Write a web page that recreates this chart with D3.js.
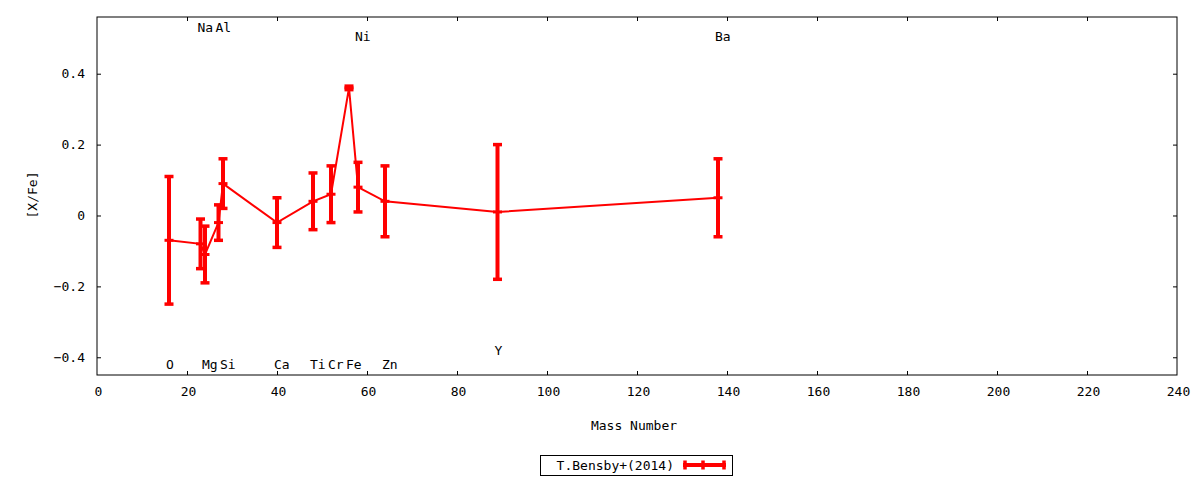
<!DOCTYPE html>
<html>
<head>
<meta charset="utf-8">
<script src="https://cdn.jsdelivr.net/npm/d3@7"></script>
<style>
  body { margin: 0; background: #fff; }
  svg { display: block; }
  text { font-family: "DejaVu Sans Mono", monospace; font-size: 13px; fill: #000; }
</style>
</head>
<body>
<div id="graf"></div>
<script>
// I. Datos
elementos  = ['O', 'Na', 'Mg', 'Al', 'Si', 'Ca', 'Ti', 'Cr', 'Fe', 'Ni', 'Zn', 'Y', 'Ba']
masa       = [16, 23, 24, 27, 28, 40, 48, 52, 56, 58, 64, 89, 138]
xfe        = [-0.07, -0.08, -0.11, -0.02, 0.09, -0.02, 0.04, 0.06, 0.36, 0.08, 0.04, 0.01, 0.05]
errXfe     = [0.18, 0.07, 0.08, 0.05, 0.07, 0.07, 0.08, 0.08, 0.005, 0.07, 0.10, 0.19, 0.11]
etiquetaY  = [-0.42, 0.53, -0.42, 0.53, -0.42, -0.42, -0.42, -0.42, -0.42, 0.505, -0.42, -0.38, 0.505]
xTicks     = [0, 20, 40, 60, 80, 100, 120, 140, 160, 180, 200, 220, 240]
yTicks     = [-0.4, -0.2, 0, 0.2, 0.4]
leyenda    = 'T.Bensby+(2014)'

datos = elementos.map((e, i) => ({
  el: e, m: masa[i], v: xfe[i], err: errXfe[i], ly: etiquetaY[i]
}))

// II. Configuración
ancho_total = 1200
alto_total  = 480
margins = { top: 17, left: 97, right: 23, bottom: 105 }
ancho = ancho_total - margins.left - margins.right
alto  = alto_total - margins.top - margins.bottom

svg = d3.select('#graf').append('svg')
  .attr('width', ancho_total)
  .attr('height', alto_total)

g = svg.append('g')
  .attr('transform', `translate(${ margins.left }, ${ margins.top })`)

x = d3.scaleLinear().domain([0, 240]).range([0, ancho])
y = d3.scaleLinear().domain([-0.45, 0.56]).range([alto, 0])

rojo = '#ff0000'
tick = 4

// III. Ejes (estilo gnuplot: ticks hacia dentro y espejados)
xAxis = g.append('g')
  .attr('transform', `translate(0, ${ alto })`)
  .call(d3.axisBottom(x).tickValues(xTicks).tickSize(-tick).tickPadding(12).tickFormat(d3.format('d')))
xAxisTop = g.append('g')
  .call(d3.axisTop(x).tickValues(xTicks).tickSize(-tick).tickFormat(''))
yAxis = g.append('g')
  .call(d3.axisLeft(y).tickValues(yTicks).tickSize(-tick).tickPadding(12).tickFormat(d => d === 0 ? '0' : d3.format('.1f')(d)))
yAxisRight = g.append('g')
  .attr('transform', `translate(${ ancho }, 0)`)
  .call(d3.axisRight(y).tickValues(yTicks).tickSize(-tick).tickFormat(''))

g.selectAll('.domain').remove()
g.selectAll('.tick line').attr('stroke', '#000').attr('stroke-width', 1)
g.selectAll('.tick text').style('font-family', '"DejaVu Sans Mono", monospace').style('font-size', '13px')
xAxis.selectAll('.tick text').attr('dx', '1px')
xAxisTop.selectAll('.tick').filter(d => d === 0 || d === 240).remove()
xAxis.selectAll('.tick line').filter(d => d === 0 || d === 240).remove()

g.append('rect')
  .attr('x', 0).attr('y', 0)
  .attr('width', ancho).attr('height', alto)
  .attr('fill', 'none')
  .attr('stroke', '#000')
  .attr('stroke-width', 1)

// Títulos
svg.append('text')
  .attr('x', margins.left + ancho / 2 - 3)
  .attr('y', 425)
  .attr('text-anchor', 'middle')
  .attr('dy', '0.35em')
  .text('Mass Number')

svg.append('text')
  .attr('transform', 'translate(32, 195) rotate(-90)')
  .attr('text-anchor', 'middle')
  .attr('dy', '0.35em')
  .text('[X/Fe]')

// IV. Etiquetas de elementos
g.selectAll('.etq')
  .data(datos)
  .enter()
  .append('text')
    .attr('class', 'etq')
    .attr('x', d => x(d.m) - 3)
    .attr('y', d => y(d.ly))
    .attr('dy', '0.35em')
    .text(d => d.el)

// V. Línea y barras de error
linea = d3.line().x(d => x(d.m)).y(d => y(d.v))

g.append('path')
  .datum(datos)
  .attr('d', linea)
  .attr('fill', 'none')
  .attr('stroke', rojo)
  .attr('stroke-width', 2)

barras = g.selectAll('.err')
  .data(datos)
  .enter()
  .append('g')
    .attr('class', 'err')

barras.append('line')
  .attr('x1', d => x(d.m)).attr('x2', d => x(d.m))
  .attr('y1', d => y(d.v + d.err)).attr('y2', d => y(d.v - d.err))
  .attr('stroke', rojo).attr('stroke-width', 4)

barras.append('line')
  .attr('x1', d => x(d.m) - 4.5).attr('x2', d => x(d.m) + 4.5)
  .attr('y1', d => y(d.v + d.err)).attr('y2', d => y(d.v + d.err))
  .attr('stroke', rojo).attr('stroke-width', 3.5)

barras.append('line')
  .attr('x1', d => x(d.m) - 4.5).attr('x2', d => x(d.m) + 4.5)
  .attr('y1', d => y(d.v - d.err)).attr('y2', d => y(d.v - d.err))
  .attr('stroke', rojo).attr('stroke-width', 3.5)

barras.append('line')
  .attr('x1', d => x(d.m) - 4.5).attr('x2', d => x(d.m) + 4.5)
  .attr('y1', d => y(d.v)).attr('y2', d => y(d.v))
  .attr('stroke', rojo).attr('stroke-width', 3)

// VI. Leyenda
leg = svg.append('g').attr('transform', 'translate(540, 455)')
leg.append('rect')
  .attr('x', 0.5).attr('y', 0.5)
  .attr('width', 192).attr('height', 20)
  .attr('fill', '#fff').attr('stroke', '#000').attr('stroke-width', 1)
leg.append('text')
  .attr('x', 134).attr('y', 10)
  .attr('dy', '0.35em')
  .attr('text-anchor', 'end')
  .text(leyenda)
leg.append('line')
  .attr('x1', 143).attr('x2', 186).attr('y1', 10).attr('y2', 10)
  .attr('stroke', rojo).attr('stroke-width', 4)
;[145, 163, 184].forEach(px => {
  leg.append('line')
    .attr('x1', px).attr('x2', px).attr('y1', 5.5).attr('y2', 14.5)
    .attr('stroke', rojo).attr('stroke-width', 3.5)
})
</script>
</body>
</html>
